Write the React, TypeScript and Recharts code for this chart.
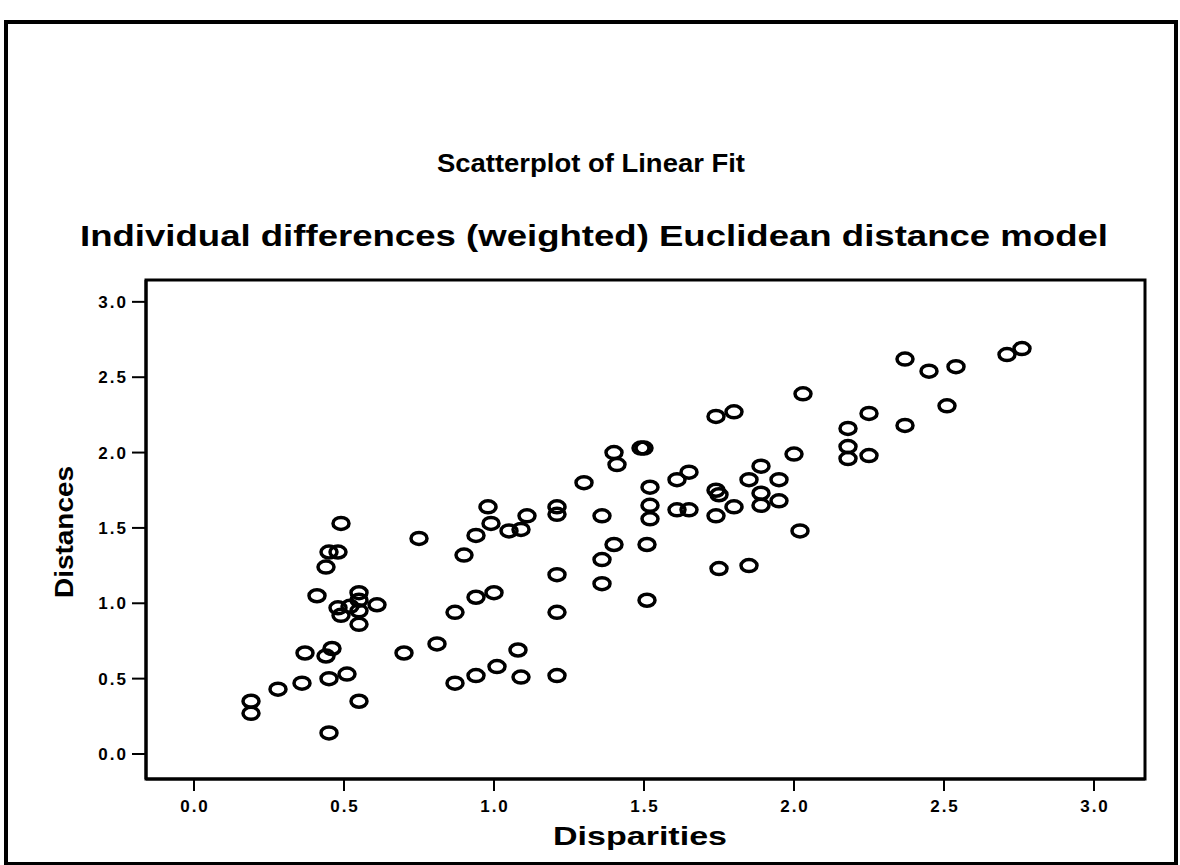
import React from "react";
import { ScatterChart, Scatter, XAxis, YAxis, ReferenceArea } from "recharts";

const disparities = [
  0.19, 0.19, 0.28, 0.36, 0.37, 0.45, 0.51, 0.46, 0.44, 0.45,
  0.55, 0.41, 0.48, 0.49, 0.55, 0.55, 0.55, 0.61, 0.55, 0.52,
  0.44, 0.45, 0.48, 0.75, 0.90, 0.70, 0.81, 0.87, 0.94, 1.00,
  0.87, 0.94, 1.01, 1.08, 1.09,
  0.49, 0.98, 0.99, 0.94, 1.05, 1.09, 1.11,
  1.21, 1.21, 1.30, 1.36, 1.40, 1.41, 1.49, 1.50, 1.52, 1.52,
  1.52, 1.61, 1.65, 1.61, 1.65, 1.74, 1.75, 1.74, 1.80, 1.74,
  1.80, 1.89, 1.85, 1.95, 1.89, 1.89, 1.95, 2.00, 2.03, 2.02,
  2.18, 2.18, 2.18, 2.25, 2.25, 2.37, 2.37, 2.45, 2.54, 2.71,
  2.76, 2.51,
  1.40, 1.51, 1.36, 1.21, 1.36, 1.51, 1.21, 1.21, 1.75, 1.85,
];

const distances = [
  0.35, 0.27, 0.43, 0.47, 0.67, 0.50, 0.53, 0.70, 0.65, 0.14,
  0.35, 1.05, 0.97, 0.92, 1.07, 1.02, 0.95, 0.99, 0.86, 0.98,
  1.24, 1.34, 1.34, 1.43, 1.32, 0.67, 0.73, 0.94, 1.04, 1.07,
  0.47, 0.52, 0.58, 0.69, 0.51,
  1.53, 1.64, 1.53, 1.45, 1.48, 1.49, 1.58,
  1.64, 1.59, 1.80, 1.58, 2.00, 1.92, 2.03, 2.03, 1.77, 1.65,
  1.56, 1.82, 1.87, 1.62, 1.62, 1.75, 1.72, 1.58, 1.64, 2.24,
  2.27, 1.91, 1.82, 1.82, 1.73, 1.65, 1.68, 1.99, 2.39, 1.48,
  2.16, 2.04, 1.96, 1.98, 2.26, 2.18, 2.62, 2.54, 2.57, 2.65,
  2.69, 2.31,
  1.39, 1.39, 1.29, 1.19, 1.13, 1.02, 0.94, 0.52, 1.23, 1.25,
];

const axisTicks = [0, 0.5, 1.0, 1.5, 2.0, 2.5, 3.0];
const xDomain: [number, number] = [-0.16, 3.17];
const yDomain: [number, number] = [-0.166, 3.145];

const mainTitle = "Scatterplot of Linear Fit";
const subTitle = "Individual differences (weighted) Euclidean distance model";
const xLabel = "Disparities";
const yLabel = "Distances";

const points = disparities.map((d, i) => ({ x: d, y: distances[i] }));

const tickFont = "'Liberation Sans', Arial, sans-serif";
const titleFont = "'Liberation Sans', Arial, sans-serif";

const XTick = (props: any) => {
  const { x, y, payload } = props;
  return (
    <text
      x={x + 1}
      y={y}
      dy={13}
      textAnchor="middle"
      fontFamily={tickFont}
      fontWeight="bold"
      fontSize={17}
      letterSpacing={2}
      fill="#000"
    >
      {Number(payload.value).toFixed(1)}
    </text>
  );
};

const YTick = (props: any) => {
  const { x, y, payload } = props;
  return (
    <text
      x={x + 2}
      y={y}
      dy={6}
      textAnchor="end"
      fontFamily={tickFont}
      fontWeight="bold"
      fontSize={17}
      letterSpacing={2}
      fill="#000"
    >
      {Number(payload.value).toFixed(1)}
    </text>
  );
};

const RingShape = (props: any) => {
  const { cx, cy } = props;
  if (cx == null || cy == null) return null;
  return (
    <ellipse cx={cx} cy={cy} rx={8} ry={6} fill="none" stroke="#000" strokeWidth={3.5} />
  );
};

export default function App() {
  return (
    <div style={{ position: "absolute", left: 0, top: 0, width: 1180, height: 865, background: "#fff" }}>
      <div
        style={{
          position: "absolute",
          left: 4,
          top: 20,
          width: 1166,
          height: 838,
          border: "4px solid #000",
          boxSizing: "content-box",
        }}
      />
      <div style={{ position: "absolute", left: 0, top: 0 }}>
        <ScatterChart
          width={1180}
          height={865}
          margin={{ top: 280, right: 35, bottom: 36, left: 66 }}
        >
          <XAxis
            type="number"
            dataKey="x"
            domain={xDomain}
            ticks={axisTicks}
            allowDataOverflow
            height={50}
            tickSize={12}
            tickMargin={8}
            axisLine={{ stroke: "#000", strokeWidth: 3 }}
            tickLine={{ stroke: "#000", strokeWidth: 2 }}
            tick={<XTick />}
            interval={0}
          />
          <YAxis
            type="number"
            dataKey="y"
            domain={yDomain}
            ticks={axisTicks}
            allowDataOverflow
            width={80}
            tickSize={14}
            tickMargin={6}
            axisLine={{ stroke: "#000", strokeWidth: 3 }}
            tickLine={{ stroke: "#000", strokeWidth: 2 }}
            tick={<YTick />}
            interval={0}
          />
          <ReferenceArea
            x1={xDomain[0]}
            x2={xDomain[1]}
            y1={yDomain[0]}
            y2={yDomain[1]}
            fill="none"
            fillOpacity={0}
            stroke="#000"
            strokeWidth={3}
            strokeOpacity={1}
            ifOverflow="visible"
          />
          <Scatter
            data={points}
            shape={<RingShape />}
            isAnimationActive={false}
          />
        </ScatterChart>
      </div>
      <svg
        width={1180}
        height={865}
        style={{ position: "absolute", left: 0, top: 0, pointerEvents: "none" }}
      >
        <text
          x={437}
          y={172}
          fontFamily={titleFont}
          fontWeight="bold"
          fontSize={26}
          textLength={308}
          lengthAdjust="spacingAndGlyphs"
          fill="#000"
        >
          {mainTitle}
        </text>
        <text
          x={80}
          y={246}
          fontFamily={titleFont}
          fontWeight="bold"
          fontSize={29}
          textLength={1028}
          lengthAdjust="spacingAndGlyphs"
          fill="#000"
        >
          {subTitle}
        </text>
        <text
          x={553}
          y={845}
          fontFamily={titleFont}
          fontWeight="bold"
          fontSize={25}
          textLength={174}
          lengthAdjust="spacingAndGlyphs"
          fill="#000"
        >
          {xLabel}
        </text>
        <text
          transform="translate(73, 532) rotate(-90)"
          x={0}
          y={0}
          textAnchor="middle"
          fontFamily={titleFont}
          fontWeight="bold"
          fontSize={26}
          textLength={132}
          lengthAdjust="spacingAndGlyphs"
          fill="#000"
        >
          {yLabel}
        </text>
      </svg>
    </div>
  );
}
